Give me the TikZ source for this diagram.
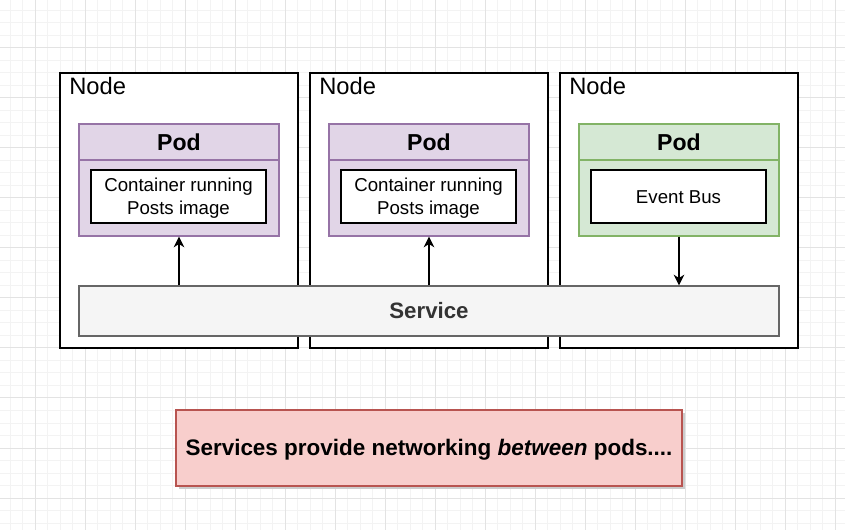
\documentclass[tikz,border=0pt]{standalone}
\usepackage{fontspec}
\setmainfont{Liberation Sans}
\usetikzlibrary{arrows.meta}
\definecolor{gridminor}{HTML}{F3F3F3}
\definecolor{gridmajor}{HTML}{E3E3E3}
\definecolor{podfill}{HTML}{E1D5E7}
\definecolor{podline}{HTML}{9673A6}
\definecolor{greenfill}{HTML}{D5E8D4}
\definecolor{greenline}{HTML}{82B366}
\definecolor{svcfill}{HTML}{F5F5F5}
\definecolor{svcline}{HTML}{666666}
\definecolor{svctext}{HTML}{333333}
\definecolor{redfill}{HTML}{F8CECC}
\definecolor{redline}{HTML}{B85450}
\tikzset{
  hostbox/.style={draw=black, line width=0.9pt, fill=white, minimum width=238*0.75pt, minimum height=275*0.75pt, inner sep=0pt},
  hostlabel/.style={anchor=west, inner sep=0pt, font=\fontsize{17.8pt}{19pt}\selectfont},
  podbox/.style={draw=podline, fill=podfill, line width=1pt, minimum width=200*0.75pt, minimum height=112*0.75pt, inner sep=0pt},
  greenbox/.style={podbox, draw=greenline, fill=greenfill},
  podtitle/.style={inner sep=0pt, font=\bfseries\fontsize{17.3pt}{19pt}\selectfont},
  contbox/.style={draw=black, line width=0.9pt, fill=white, minimum width=175*0.75pt, minimum height=53*0.75pt, inner sep=0pt, align=center, font=\fontsize{14pt}{17.3pt}\selectfont},
  svcbox/.style={draw=svcline, fill=svcfill, line width=1pt, minimum width=700*0.75pt, minimum height=50*0.75pt, inner sep=0pt, text=svctext, font=\bfseries\fontsize{16.7pt}{18pt}\selectfont},
  notebox/.style={draw=redline, fill=redfill, line width=1pt, minimum width=506*0.75pt, minimum height=76*0.75pt, inner sep=0pt, font=\bfseries\fontsize{16.85pt}{19pt}\selectfont},
  arr/.style={draw=black, line width=0.9pt, -{Stealth[length=8pt,width=8pt,inset=2.5pt]}}
}
\begin{document}
\begin{tikzpicture}[x=0.75pt,y=-0.75pt]
\useasboundingbox (0,0) rectangle (845,530);
\fill[white] (0,0) rectangle (845,530);
% grid
\foreach \i in {0,...,67} {
  \pgfmathsetmacro\gx{10+12.5*\i}
  \draw[gridminor, line width=0.75pt] (\gx,0) -- (\gx,530);
}
\foreach \i in {0,...,42} {
  \pgfmathsetmacro\gy{10.5+12.5*\i}
  \draw[gridminor, line width=0.75pt] (0,\gy) -- (845,\gy);
}
\foreach \i in {0,...,16} {
  \pgfmathsetmacro\gx{35+50*\i}
  \draw[gridmajor, line width=0.75pt] (\gx,0) -- (\gx,530);
}
\foreach \i in {0,...,10} {
  \pgfmathsetmacro\gy{48+50*\i}
  \draw[gridmajor, line width=0.75pt] (0,\gy) -- (845,\gy);
}
% host nodes
\node[hostbox] (h1) at (179,210.5) {};
\node[hostbox] (h2) at (429,210.5) {};
\node[hostbox] (h3) at (679,210.5) {};
\node[hostlabel] (h1l) at (69,86) {Node};
\node[hostlabel] (h2l) at (319,86) {Node};
\node[hostlabel] (h3l) at (569,86) {Node};
% pods
\node[podbox] (p1) at (179,180) {};
\node[podbox] (p2) at (429,180) {};
\node[greenbox] (p3) at (679,180) {};
\draw[podline, line width=1pt] (p1.west |- 0,160) -- (p1.east |- 0,160);
\draw[podline, line width=1pt] (p2.west |- 0,160) -- (p2.east |- 0,160);
\draw[greenline, line width=1pt] (p3.west |- 0,160) -- (p3.east |- 0,160);
\node[podtitle] (p1t) at (179,142) {Pod};
\node[podtitle] (p2t) at (429,142) {Pod};
\node[podtitle] (p3t) at (679,142) {Pod};
\node[contbox] (c1) at (178.5,196.5) {};
\node[contbox] (c2) at (428.5,196.5) {};
\node[contbox] (c3) at (678.5,196.5) {};
\node[align=center, inner sep=0pt, font=\fontsize{14pt}{17.3pt}\selectfont] (c1t) at (178.5,198) {Container running\\Posts image};
\node[align=center, inner sep=0pt, font=\fontsize{14pt}{17.3pt}\selectfont] (c2t) at (428.5,198) {Container running\\Posts image};
\node[align=center, inner sep=0pt, font=\fontsize{14pt}{17.3pt}\selectfont] (c3t) at (678.5,197.5) {Event Bus};
% service
\node[svcbox] (svc) at (429,311) {Service};
% arrows
\draw[arr] (p1.south |- svc.north) -- (p1.south);
\draw[arr] (p2.south |- svc.north) -- (p2.south);
\draw[arr] (p3.south) -- (p3.south |- svc.north);
% note
\fill[black!20] (179,413) rectangle (685,489);
\node[notebox] (note) at (429,448) {};
\node[inner sep=0pt, font=\bfseries\fontsize{16.85pt}{19pt}\selectfont] (notet) at (429,449.5) {Services provide networking \textit{between} pods....};
\end{tikzpicture}
\end{document}
